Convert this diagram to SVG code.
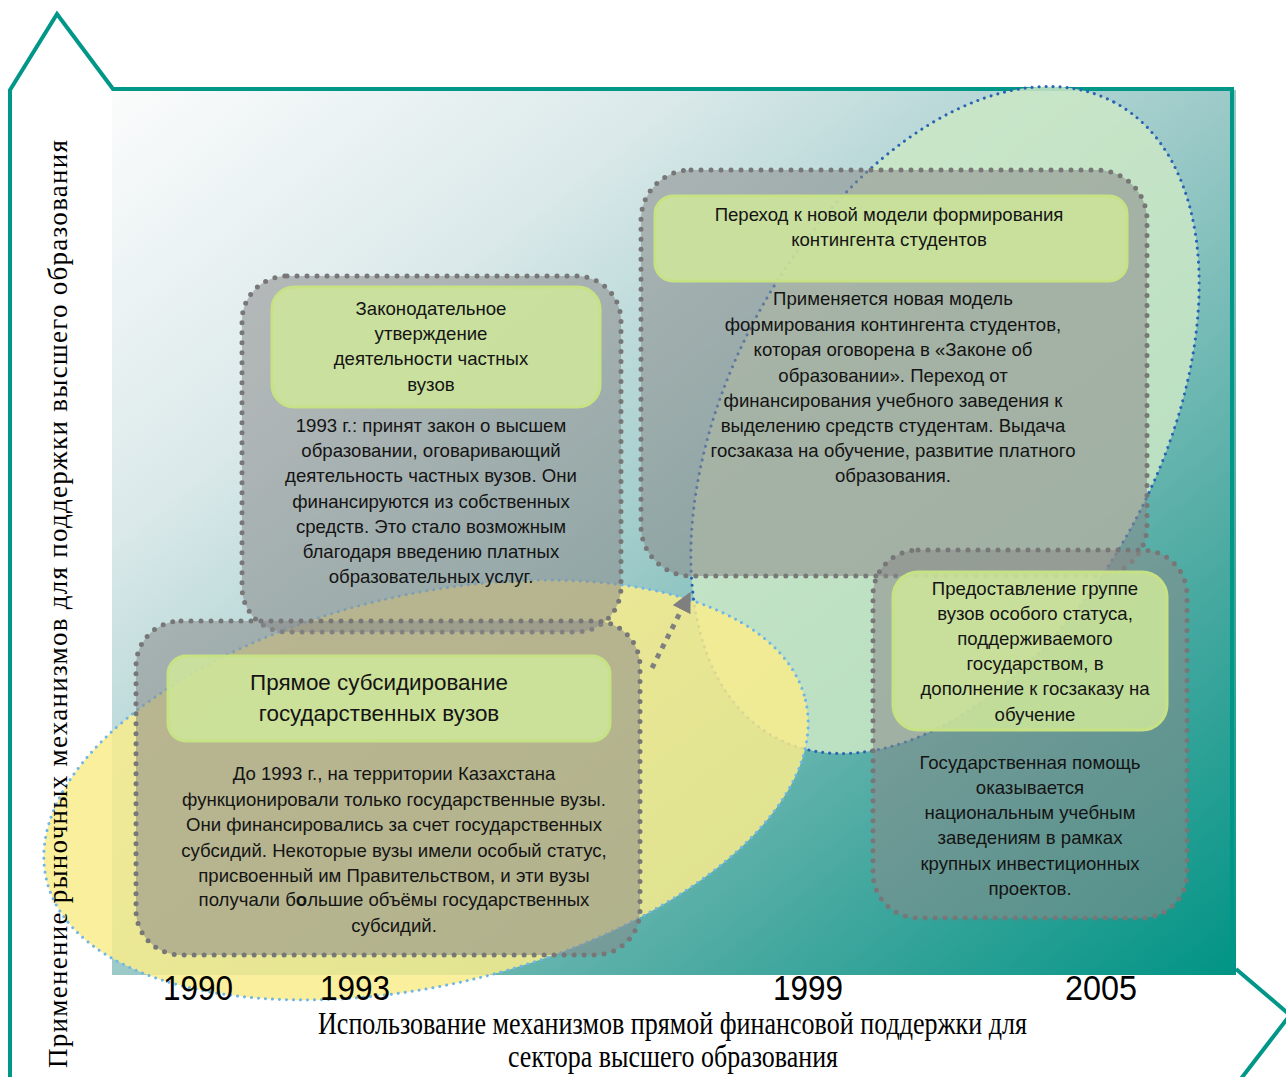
<svg xmlns="http://www.w3.org/2000/svg" width="1286" height="1077" viewBox="0 0 1286 1077">
<defs>
<linearGradient id="bg" x1="0" y1="0" x2="1" y2="1">
<stop offset="0" stop-color="#fbfcfc"/>
<stop offset="0.25" stop-color="#dbe9ea"/>
<stop offset="0.5" stop-color="#9ccac8"/>
<stop offset="0.75" stop-color="#4eaba3"/>
<stop offset="1" stop-color="#009485"/>
</linearGradient>
<marker id="ah" viewBox="0 0 10 10" refX="6" refY="5" markerWidth="4" markerHeight="4" markerUnits="strokeWidth" orient="auto">
<path d="M0,0 L10,5 L0,10 z" fill="#7f7f7f"/>
</marker>
<style>
.frame{fill:none;stroke:#009688;stroke-width:4;stroke-linejoin:miter}
.box{fill:#8a8a8a;fill-opacity:0.55;stroke:#777;stroke-width:5;stroke-dasharray:0 10;stroke-linecap:round}
.inner{fill:#cfe89a;fill-opacity:0.85;stroke:#c6e285;stroke-width:3}
.t{font-family:"Liberation Sans",Arial,sans-serif;font-size:18.6px;fill:#141414;text-anchor:middle}
.big{font-size:22.4px}
.yr{font-family:"Liberation Sans",Arial,sans-serif;font-size:35px;fill:#000}
.ax{font-family:"Liberation Serif","Times New Roman",serif;fill:#000;text-anchor:middle}
</style>
</defs>

<g id="background">
<rect x="112" y="90" width="1124" height="885" fill="url(#bg)"/>
</g>

<g id="axes">
<polyline class="frame" points="10,1080 10,90 57,14 113,89 1232,89 1232,970"/>
<polyline class="frame" points="1236,969 1290,1015 1240,1080"/>
</g>

<g id="ellipse-green">
<ellipse cx="945" cy="420" rx="360" ry="215" transform="rotate(-62 945 420)" fill="#cbe8c6" fill-opacity="0.85" stroke="#2a62b4" stroke-width="3" stroke-dasharray="0 7" stroke-linecap="round"/>
</g>
<g id="ellipse-yellow">
<ellipse cx="426" cy="790" rx="390" ry="195" transform="rotate(-13.3 426 790)" fill="#f8ec8c" fill-opacity="0.85" stroke="#6fb5e6" stroke-width="3" stroke-dasharray="0 7" stroke-linecap="round"/>
</g>

<g id="node-legal">
<rect class="box" x="242" y="276" width="379" height="356" rx="45"/>
<rect class="inner" x="272" y="287" width="328" height="120" rx="22"/>
<text class="t" x="431" y="315">Законодательное</text>
<text class="t" x="431" y="340">утверждение</text>
<text class="t" x="431" y="365">деятельности частных</text>
<text class="t" x="431" y="391">вузов</text>
<text class="t" x="431" y="432">1993 г.: принят закон о высшем</text>
<text class="t" x="431" y="457">образовании, оговаривающий</text>
<text class="t" x="431" y="482">деятельность частных вузов. Они</text>
<text class="t" x="431" y="508">финансируются из собственных</text>
<text class="t" x="431" y="533">средств. Это стало возможным</text>
<text class="t" x="431" y="558">благодаря введению платных</text>
<text class="t" x="431" y="583">образовательных услуг.</text>
</g>

<g id="node-subsidy">
<rect class="box" x="136" y="621" width="504" height="334" rx="45"/>
<rect class="inner" x="168" y="656" width="442" height="85" rx="18"/>
<text class="t big" x="379" y="690">Прямое субсидирование</text>
<text class="t big" x="379" y="721">государственных вузов</text>
<text class="t" x="394" y="780">До 1993 г., на территории Казахстана</text>
<text class="t" x="394" y="806">функционировали только государственные вузы.</text>
<text class="t" x="394" y="831">Они финансировались за счет государственных</text>
<text class="t" x="394" y="857">субсидий. Некоторые вузы имели особый статус,</text>
<text class="t" x="394" y="882">присвоенный им Правительством, и эти вузы</text>
<text class="t" x="394" y="906">получали б<tspan font-weight="bold">о</tspan>льшие объёмы государственных</text>
<text class="t" x="394" y="932">субсидий.</text>
</g>

<g id="node-model">
<rect class="box" x="641" y="170" width="506" height="406" rx="50"/>
<rect class="inner" x="655" y="196" width="472" height="85" rx="18"/>
<text class="t" x="889" y="221">Переход к новой модели формирования</text>
<text class="t" x="889" y="246">контингента студентов</text>
<text class="t" x="893" y="305">Применяется новая модель</text>
<text class="t" x="893" y="331">формирования контингента студентов,</text>
<text class="t" x="893" y="356">которая оговорена в «Законе об</text>
<text class="t" x="893" y="382">образовании». Переход от</text>
<text class="t" x="893" y="407">финансирования учебного заведения к</text>
<text class="t" x="893" y="432">выделению средств студентам. Выдача</text>
<text class="t" x="893" y="457">госзаказа на обучение, развитие платного</text>
<text class="t" x="893" y="482">образования.</text>
</g>

<g id="node-status">
<rect class="box" x="873" y="550" width="314" height="368" rx="45"/>
<rect class="inner" x="893" y="572" width="274" height="158" rx="25"/>
<text class="t" x="1035" y="595">Предоставление группе</text>
<text class="t" x="1035" y="620">вузов особого статуса,</text>
<text class="t" x="1035" y="645">поддерживаемого</text>
<text class="t" x="1035" y="670">государством, в</text>
<text class="t" x="1035" y="695">дополнение к госзаказу на</text>
<text class="t" x="1035" y="721">обучение</text>
<text class="t" x="1030" y="769">Государственная помощь</text>
<text class="t" x="1030" y="794">оказывается</text>
<text class="t" x="1030" y="819">национальным учебным</text>
<text class="t" x="1030" y="844">заведениям в рамках</text>
<text class="t" x="1030" y="870">крупных инвестиционных</text>
<text class="t" x="1030" y="895">проектов.</text>
</g>

<g id="connectors">
<line x1="652" y1="668" x2="687" y2="599" stroke="#7f7f7f" stroke-width="5" stroke-dasharray="5 6" marker-end="url(#ah)"/>
</g>

<g id="labels">
<text class="yr" x="163" y="1000" textLength="70" lengthAdjust="spacingAndGlyphs">1990</text>
<text class="yr" x="320" y="1000" textLength="70" lengthAdjust="spacingAndGlyphs">1993</text>
<text class="yr" x="773" y="1000" textLength="70" lengthAdjust="spacingAndGlyphs">1999</text>
<text class="yr" x="1065" y="1000" textLength="72" lengthAdjust="spacingAndGlyphs">2005</text>
<text class="ax" x="672.5" y="1034" font-size="31" textLength="709" lengthAdjust="spacingAndGlyphs">Использование механизмов прямой финансовой поддержки для</text>
<text class="ax" x="673" y="1067" font-size="31" textLength="330" lengthAdjust="spacingAndGlyphs">сектора высшего образования</text>
<text class="ax" transform="translate(67,604) rotate(-90)" x="0" y="0" font-size="27" textLength="928" lengthAdjust="spacing">Применение рыночных механизмов для поддержки высшего образования</text>
</g>
</svg>
